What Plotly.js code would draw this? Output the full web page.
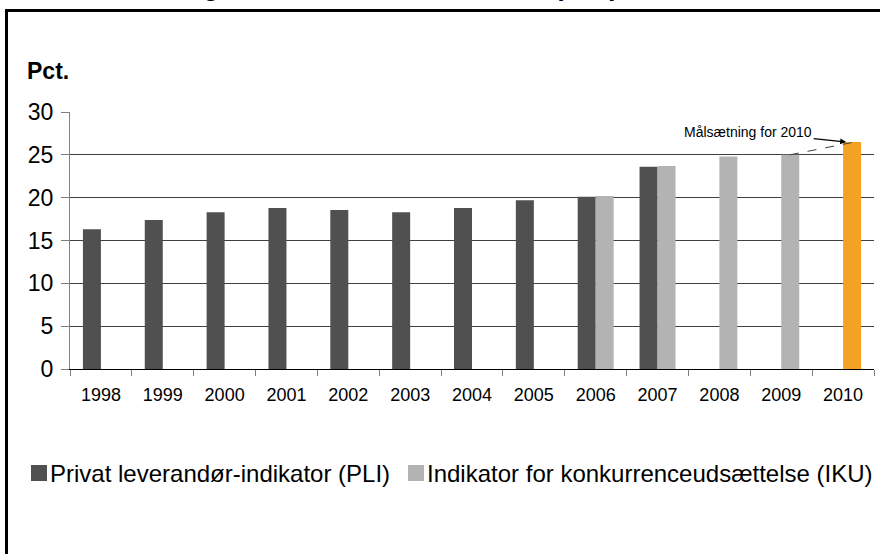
<!DOCTYPE html>
<html>
<head>
<meta charset="utf-8">
<script src="https://cdn.plot.ly/plotly-3.0.1.min.js"></script>
<style>html,body{margin:0;padding:0;background:#fff;}#chart{width:880px;height:554px;}</style>
</head>
<body>
<div id="chart"></div>
<script>
// ---- data ----
const years = ["1998","1999","2000","2001","2002","2003","2004","2005","2006","2007","2008","2009","2010"];
const pliName = "Privat leverandør-indikator (PLI)";
const ikuName = "Indikator for konkurrenceudsættelse (IKU)";
const pliValues = [16.3, 17.4, 18.3, 18.8, 18.55, 18.3, 18.8, 19.7, 20.1, 23.6, null, null, null];
const ikuValues = [null, null, null, null, null, null, null, null, 20.2, 23.7, 24.8, 25.0, 26.5];
const ikuColors = ["#b3b3b3","#b3b3b3","#b3b3b3","#b3b3b3","#b3b3b3","#b3b3b3","#b3b3b3","#b3b3b3","#b3b3b3","#b3b3b3","#b3b3b3","#b3b3b3","#f4a223"];
const yTickVals = [0, 5, 10, 15, 20, 25, 30];
const targetLabel = "Målsætning for 2010";
const yTitle = "Pct.";
const topTitle = "Udvikling i konkurrenceudsættelse (IKU), 1998-2010";

// ---- layout helpers (pixel -> paper) ----
const W = 880, H = 554;
const L = 70, R = 6, T = 112, B = 185;
const pw = W - L - R, ph = H - T - B;
const px = x => (x - L) / pw;
const py = y => (H - B - y) / ph;
const font = "Liberation Sans, Arial, sans-serif";

const traces = [
  {type: "bar", name: pliName, x: years, y: pliValues, marker: {color: "#505050"}, showlegend: false, hoverinfo: "x+y"},
  {type: "bar", name: ikuName, x: years, y: ikuValues, marker: {color: ikuColors}, showlegend: false, hoverinfo: "x+y"}
];

const last = years.length - 1;
const layout = {
  width: W, height: H,
  margin: {l: L, r: R, t: T, b: B, pad: 0},
  paper_bgcolor: "#fff", plot_bgcolor: "#fff",
  font: {family: font, color: "#000"},
  barmode: "group", bargap: 0.418, bargroupgap: 0,
  xaxis: {
    type: "category", range: [-0.5, last + 0.5],
    showline: true, linecolor: "#000", linewidth: 1,
    ticks: "outside", tickson: "boundaries", ticklen: 6, tickcolor: "#808080", tickwidth: 1,
    showgrid: false, zeroline: false,
    tickfont: {size: 18, family: font, color: "#000"}, ticklabelstandoff: 9
  },
  yaxis: {
    range: [0, 30], tickvals: yTickVals, ticktext: yTickVals.map(String),
    showline: true, linecolor: "#808080", linewidth: 1,
    ticks: "outside", ticklen: 8, tickcolor: "#808080",
    showgrid: true, gridcolor: "#404040", gridwidth: 1, zeroline: false,
    tickfont: {size: 23, family: font, color: "#000"}, ticklabelstandoff: 3
  },
  shapes: [
    {type: "rect", xref: "paper", yref: "paper", x0: px(6.5), x1: px(884), y0: py(10.5), y1: py(600),
     line: {color: "#000", width: 3}, fillcolor: "rgba(0,0,0,0)", layer: "above"},
    {type: "line", xref: "x", yref: "y", x0: (last - 1) + 0.14, y0: ikuValues[last - 1], x1: last + 0.19, y1: ikuValues[last],
     line: {color: "#404040", width: 1, dash: "dash"}},
    // legend squares
    {type: "rect", xref: "paper", yref: "paper", x0: px(31), x1: px(47), y0: py(481), y1: py(465), fillcolor: "#505050", line: {width: 0}},
    {type: "rect", xref: "paper", yref: "paper", x0: px(408), x1: px(424), y0: py(481), y1: py(465), fillcolor: "#b3b3b3", line: {width: 0}}
  ],
  annotations: [
    {xref: "paper", yref: "paper", x: px(96), y: py(-14.5), text: "<b>" + topTitle + "</b>", showarrow: false,
     xanchor: "left", yanchor: "middle", font: {size: 27, family: font, color: "#000"}},
    {xref: "paper", yref: "paper", x: px(25), y: py(71), text: "<b>" + yTitle + "</b>", showarrow: false,
     xanchor: "left", yanchor: "middle", font: {size: 23, family: font, color: "#000"}},
    {xref: "x", yref: "y", x: last + 0.05, y: ikuValues[last], ax: -98, ay: -10, text: targetLabel,
     showarrow: true, arrowhead: 2, arrowsize: 1, arrowwidth: 1.2, arrowcolor: "#000",
     font: {size: 14, family: font, color: "#000"}},
    {xref: "paper", yref: "paper", x: px(48), y: py(473), text: pliName, showarrow: false,
     xanchor: "left", yanchor: "middle", font: {size: 24, family: font, color: "#000"}},
    {xref: "paper", yref: "paper", x: px(425), y: py(473), text: ikuName, showarrow: false,
     xanchor: "left", yanchor: "middle", font: {size: 24, family: font, color: "#000"}}
  ]
};

Plotly.newPlot("chart", traces, layout, {displayModeBar: false, staticPlot: true});
</script>
</body>
</html>
